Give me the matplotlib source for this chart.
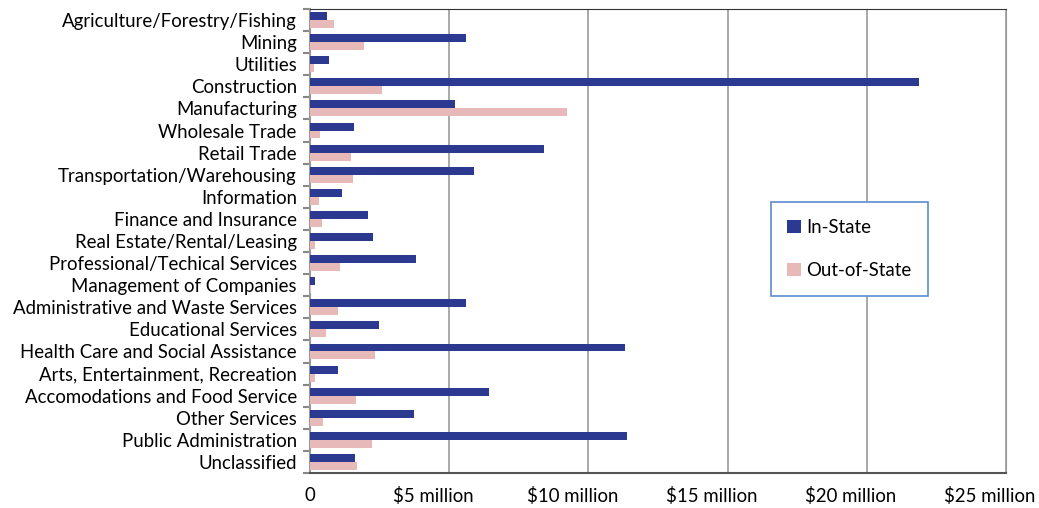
import numpy as np
import matplotlib.pyplot as plt
from matplotlib.transforms import ScaledTranslation

# datos (millones de dólares)
categories = ['Agriculture/Forestry/Fishing', 'Mining', 'Utilities', 'Construction',
              'Manufacturing', 'Wholesale Trade', 'Retail Trade',
              'Transportation/Warehousing', 'Information', 'Finance and Insurance',
              'Real Estate/Rental/Leasing', 'Professional/Techical Services',
              'Management of Companies', 'Administrative and Waste Services',
              'Educational Services', 'Health Care and Social Assistance',
              'Arts, Entertainment, Recreation', 'Accomodations and Food Service',
              'Other Services', 'Public Administration', 'Unclassified']
in_state = [0.62, 5.59, 0.67, 21.86, 5.22, 1.59, 8.41, 5.89, 1.15, 2.09, 2.26,
            3.81, 0.17, 5.59, 2.48, 11.3, 0.99, 6.43, 3.72, 11.39, 1.63]
out_state = [0.86, 1.94, 0.13, 2.6, 9.22, 0.35, 1.46, 1.56, 0.31, 0.44, 0.19,
             1.09, 0.02, 1.0, 0.57, 2.32, 0.18, 1.65, 0.46, 2.21, 1.68]
x_ticks = [0, 5, 10, 15, 20, 25]
x_labels = ['0', '$5 million', '$10 million', '$15 million', '$20 million', '$25 million']

plt.rcParams['font.family'] = ['Lato', 'DejaVu Sans']
fs = 13.4

fig = plt.figure(figsize=(10.39, 5.08), dpi=100)
ax = fig.add_axes([0.2984, 0.0689, 0.6698, 0.9134])

y = np.arange(len(categories))
h = 0.36
ax.barh(y - h / 2, in_state, height=h, color='#2b3990', label='In-State', zorder=3)
ax.barh(y + h / 2, out_state, height=h, color='#e8b9b9', label='Out-of-State', zorder=3)

ax.set_ylim(len(categories) - 0.5, -0.5)
ax.set_xlim(0, 25)
ax.set_xticks(x_ticks)
ax.set_xticklabels(x_labels, fontsize=fs)
ax.set_yticks(y)
ax.set_yticklabels(categories, fontsize=fs)
ax.tick_params(axis='y', length=0, pad=9.5)
ax.tick_params(axis='x', length=0, pad=10)
# las etiquetas del eje x salen corridas a la izquierda (como en Excel)
for lbl in ax.get_xticklabels()[1:]:
    lbl.set_transform(lbl.get_transform() + ScaledTranslation(-16 / 100, 0, fig.dpi_scale_trans))
# marcas entre categorías
ax.set_yticks(np.arange(len(categories) + 1) - 0.5, minor=True)
ax.tick_params(axis='y', which='minor', length=5, color='#888888', width=1.5)

ax.grid(axis='x', color='#999999', lw=1.2, zorder=0)
ax.spines['top'].set_color('#333333')
ax.spines['right'].set_color('#999999')
ax.spines['left'].set_color('#999999')
ax.spines['bottom'].set_color('#555555')
ax.spines['left'].set_linewidth(1.5)
ax.spines['bottom'].set_linewidth(1.5)

leg = ax.legend(loc='upper left', bbox_to_anchor=(0.662, 0.584), fontsize=fs,
                frameon=True, fancybox=False, labelspacing=1.4, borderpad=0.9,
                handlelength=0.7, handleheight=0.7, handletextpad=0.3,
                borderaxespad=0)
leg.get_frame().set_edgecolor('#5b8bd0')
leg.get_frame().set_linewidth(1.2)
leg.get_frame().set_alpha(1)

plt.savefig('out.png', dpi=100)
